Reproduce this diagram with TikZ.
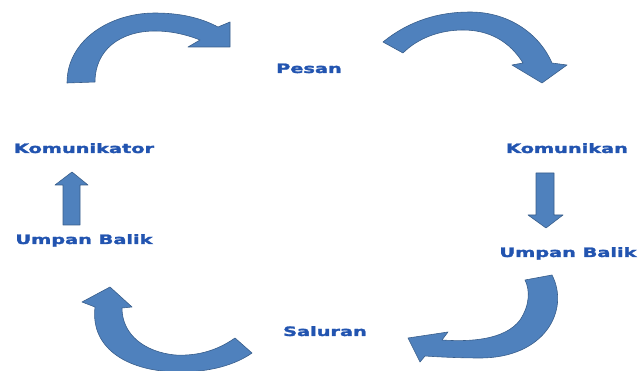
\documentclass[tikz,border=0pt]{standalone}
\usepackage{fontspec}
\usepackage{graphicx}
\newfontfamily\lblfont{DejaVu Sans}[BoldFeatures={FakeBold=1.6}]
\definecolor{arrowblue}{RGB}{79,129,189}
\definecolor{arrowedge}{RGB}{56,93,138}
\definecolor{labelblue}{RGB}{34,84,176}
\newcommand\widetext[1]{\scalebox{1.5}[1]{#1}}
\tikzset{
  blockarrow/.style={fill=arrowblue, draw=arrowedge, line width=0.5pt, line join=round},
  steplabel/.style={text=labelblue, font=\lblfont\bfseries\fontsize{11}{13}\selectfont, inner sep=0pt, anchor=base}
}
\begin{document}
\begin{tikzpicture}[x=0.03cm, y=-0.03cm]
  \useasboundingbox (0,0) rectangle (638,371);
  % labels
  \node[steplabel] (pesan) at (309,73) {\widetext{Pesan}};
  \node[steplabel] (komunikator) at (84,153) {\widetext{Komunikator}};
  \node[steplabel] (komunikan) at (567,153) {\widetext{Komunikan}};
  \node[steplabel] (umpanL) at (84,244) {\widetext{Umpan Balik}};
  \node[steplabel] (umpanR) at (568,257) {\widetext{Umpan Balik}};
  \node[steplabel] (saluran) at (325,336) {\widetext{Saluran}};
  % curved arrows
  \draw[blockarrow] (67,83) .. controls (67,40) and (110,13) .. (155,13)
    .. controls (185,13) and (205,20) .. (218,27) -- (230,22) -- (230,47) -- (188,47) -- (200,40)
    .. controls (185,34) and (170,31) .. (155,31) .. controls (120,31) and (95,50) .. (95,82) -- cycle;
  \draw[blockarrow] (383,42) .. controls (410,20) and (440,12) .. (470,12)
    .. controls (510,12) and (540,35) .. (552,63) -- (567,65) -- (542,83) -- (512,65) -- (523,63)
    .. controls (510,42) and (490,30) .. (463,30) .. controls (440,30) and (418,38) .. (403,53) -- cycle;
  \draw[blockarrow] (552,275) .. controls (570,310) and (545,358) .. (480,358)
    .. controls (460,358) and (440,357) .. (425,356) -- (420,362) -- (408,338) -- (448,332) -- (442,340)
    .. controls (470,342) and (505,340) .. (520,320) .. controls (530,305) and (530,290) .. (525,280) -- cycle;
  \draw[blockarrow] (95,307) .. controls (90,350) and (130,372) .. (180,372)
    .. controls (210,372) and (235,365) .. (252,353) -- (235,338)
    .. controls (215,352) and (195,356) .. (175,355) .. controls (145,352) and (122,335) .. (122,308)
    -- (132,307) -- (110,287) -- (82,302) -- cycle;
  % straight arrows
  \draw[blockarrow] (63,225) -- (63,185) -- (55,185) -- (72,172) -- (88,185) -- (80,185) -- (80,225) -- cycle;
  \draw[blockarrow] (536,173) -- (536,215) -- (528,215) -- (546,228) -- (563,215) -- (554,215) -- (554,173) -- cycle;
\end{tikzpicture}
\end{document}
